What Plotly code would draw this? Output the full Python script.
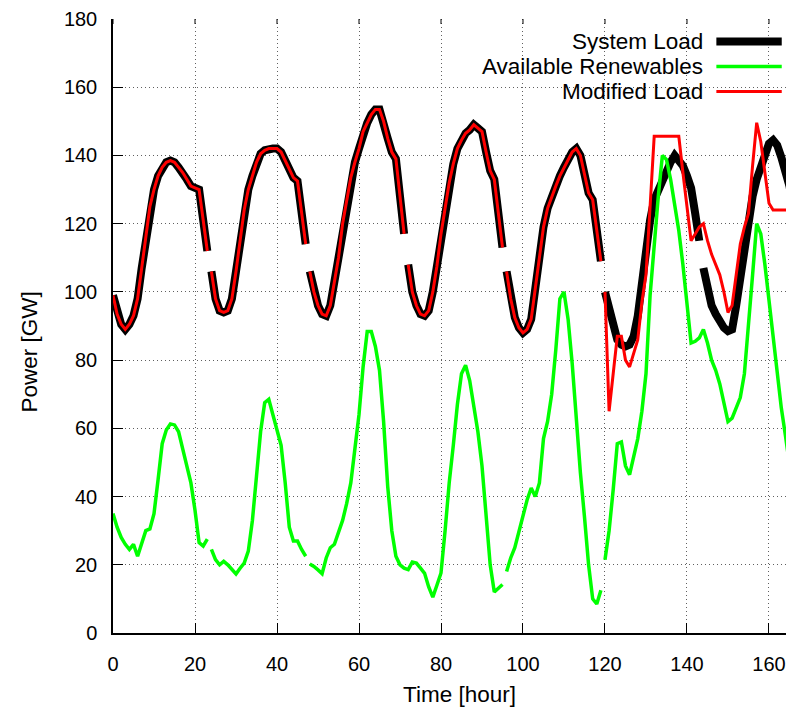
import plotly.graph_objects as go

hours = list(range(168))

system_load = [
    99, 93.5, 90.5, 89, 90.5, 93, 98, 107, 116, 125, 130, 134, 136.5, 138, 138.5, 138, 136.5, 135, 133, 131, 130.5, 130, 121, 112,
    106, 98, 94.5, 94, 94.5, 98, 106, 115, 124, 130, 134, 138, 140.5, 141.5, 142, 142, 142, 141, 138.5, 136, 133.5, 132.5, 123, 114,
    106, 100, 96, 93.5, 93, 96, 103, 110, 120, 127, 133.5, 138, 142, 147, 149.5, 152, 153.5, 153.5, 150, 145, 141, 139, 128, 117,
    108, 100, 96, 93.5, 93, 94.5, 100, 107.5, 117, 125, 132, 137.5, 142, 144.5, 146.5, 147.5, 149, 148, 147, 141, 135.5, 133, 123, 113,
    106, 98, 92.5, 89.5, 88, 89, 92, 101, 111, 119, 124.5, 128, 131, 134, 136.5, 139, 141, 142, 140, 134.5, 129, 127, 118, 109,
    100, 95, 90.5, 86, 84.5, 84, 84.5, 87, 93, 103, 113, 121, 127, 130, 133, 136, 138, 140, 138.5, 137, 134, 130.5, 123, 115,
    107, 101, 96, 93.5, 91, 89.5, 88.5, 89, 96, 105, 114, 121, 128, 133, 137, 140.5, 143.5, 144.5, 143, 139.5, 136, 131, 124, 118,
]

renewables = [
    35, 31, 28, 26, 24.5, 26, 22.5, 26, 30, 30.5, 35, 45, 55.5, 59.5, 61.3, 61, 59, 54, 49, 44, 36, 26.5, 25.5, 27.5,
    24.5, 21.5, 20, 21, 20, 18.5, 17.3, 19, 20.5, 24, 33, 46, 59, 67.5, 68.5, 64, 59, 55, 44, 31, 27, 27, 24.5, 22.5,
    20.2, 19.5, 18.5, 17.4, 22, 25, 26, 29.5, 33, 38, 44, 54, 64, 78, 88.4, 88.4, 84, 77, 62, 43, 30, 22.5, 20, 19,
    18.6, 20.8, 20.5, 19, 17.5, 13.5, 10.5, 14, 17.6, 30, 44, 55, 67, 76, 78.5, 74, 67, 59, 49, 35, 20, 12, 13, 14.2,
    18, 22, 25, 30, 35, 39, 42.5, 40, 44, 57, 62, 70, 83, 98, 100, 92, 79, 62, 47, 34, 20, 10, 8.5, 12.5,
    21.5, 30, 42, 55.5, 56, 49, 46.4, 52, 57, 65, 76, 99, 114, 128, 140, 138.8, 133, 126, 118, 108, 96, 85, 85.5, 86.5,
    89, 85, 80, 77, 73, 68, 62, 63, 66, 69, 76, 92, 105, 120, 117, 108, 97, 86, 75, 66, 58, 49, 40.5, 32,
]

modified_load_tail = [
    100, 65, 76, 87, 87, 80, 78, 82, 86, 97, 105, 125, 145.6, 145.6, 145.6, 145.6, 145.6, 145.6, 145.6, 135, 125, 115, 117, 119,
    120, 115, 111, 108, 105, 100, 94, 96, 105, 114, 119, 123, 137, 149.6, 144, 135, 126, 124, 124, 124, 124, 124, 124, 124,
]
modified_load = system_load[:120] + modified_load_tail

load_breaks = [24, 48, 72, 96, 120, 144]
renew_breaks = [24, 48, 96, 120]
modified_breaks = [24, 48, 72, 96, 120]

x_ticks = list(range(0, 161, 20))
y_ticks = list(range(0, 181, 20))
y_max = 180


def with_gaps(xs, ys, breaks):
    X, Y = [], []
    for x, y in zip(xs, ys):
        if x in breaks:
            X.append(None)
            Y.append(None)
        X.append(x)
        Y.append(y)
    return X, Y


FONT = "Liberation Sans, Arial, Helvetica, sans-serif"
TITLE_SIZE = 22.5

fig = go.Figure()
series = [
    ("System Load", system_load, load_breaks, "#000000", 8),
    ("Available Renewables", renewables, renew_breaks, "#00ff00", 3.5),
    ("Modified Load", modified_load, modified_breaks, "#ff0000", 3),
]
for name, vals, brks, col, w in series:
    X, Y = with_gaps(hours, vals, brks)
    fig.add_trace(go.Scatter(x=X, y=Y, mode="lines", name=name,
                             line=dict(color=col, width=w), connectgaps=False,
                             showlegend=False))

# manual gnuplot-style key (text right, sample on the right)
key_y = [0.9633, 0.9226, 0.8819]
shapes = [dict(type="rect", xref="paper", yref="paper", x0=0.4993, x1=1.0, y0=0.859, y1=1.0,
               fillcolor="white", line=dict(width=0), layer="between")]
# short mirrored ticks along the top edge
for t in x_ticks:
    shapes.append(dict(type="line", xref="x", yref="y", ysizemode="pixel", yanchor=y_max,
                       x0=t, x1=t, y0=0, y1=-5, line=dict(color="black", width=1)))
annotations = []
for (name, vals, brks, col, w), ky in zip(series, key_y):
    annotations.append(dict(text=name, xref="paper", yref="paper", x=0.8693, y=ky,
                            xanchor="right", yanchor="middle", showarrow=False,
                            font=dict(family=FONT, size=TITLE_SIZE, color="black")))
    shapes.append(dict(type="line", xref="paper", yref="paper", x0=0.886, x1=0.982,
                       y0=ky, y1=ky, line=dict(color=col, width=w)))

annotations.append(dict(text="Time [hour]", xref="paper", yref="paper", x=0.5095, y=-0.1005,
                        xanchor="center", yanchor="middle", showarrow=False,
                        font=dict(family=FONT, size=TITLE_SIZE, color="black")))
annotations.append(dict(text="Power [GW]", xref="paper", yref="paper", x=-0.1219, y=0.4583,
                        xanchor="center", yanchor="middle", showarrow=False, textangle=-90,
                        font=dict(family=FONT, size=TITLE_SIZE, color="black")))

fig.update_layout(
    width=786, height=703,
    margin=dict(l=105, r=0, t=11, b=78),
    paper_bgcolor="white", plot_bgcolor="white",
    font=dict(family=FONT, size=20, color="black"),
    shapes=shapes, annotations=annotations,
    showlegend=False,
)
grid_style = dict(showgrid=True, gridcolor="#606060", griddash="1px,3px", gridwidth=1)
fig.update_xaxes(range=[0, 166.1], tickvals=x_ticks, ticks="inside", ticklen=10, tickwidth=1,
                 tickcolor="black", showline=True, linecolor="black", linewidth=1.5,
                 mirror=False, zeroline=False, ticklabelstandoff=12,
                 tickfont=dict(family=FONT, size=20, color="black"), **grid_style)
fig.update_yaxes(range=[0, y_max], tickvals=y_ticks, ticks="inside", ticklen=10, tickwidth=1,
                 tickcolor="black", showline=True, linecolor="black", linewidth=1.5,
                 mirror=False, zeroline=False, ticklabelstandoff=10,
                 tickfont=dict(family=FONT, size=20, color="black"), **grid_style)

fig.write_html("out.html")
